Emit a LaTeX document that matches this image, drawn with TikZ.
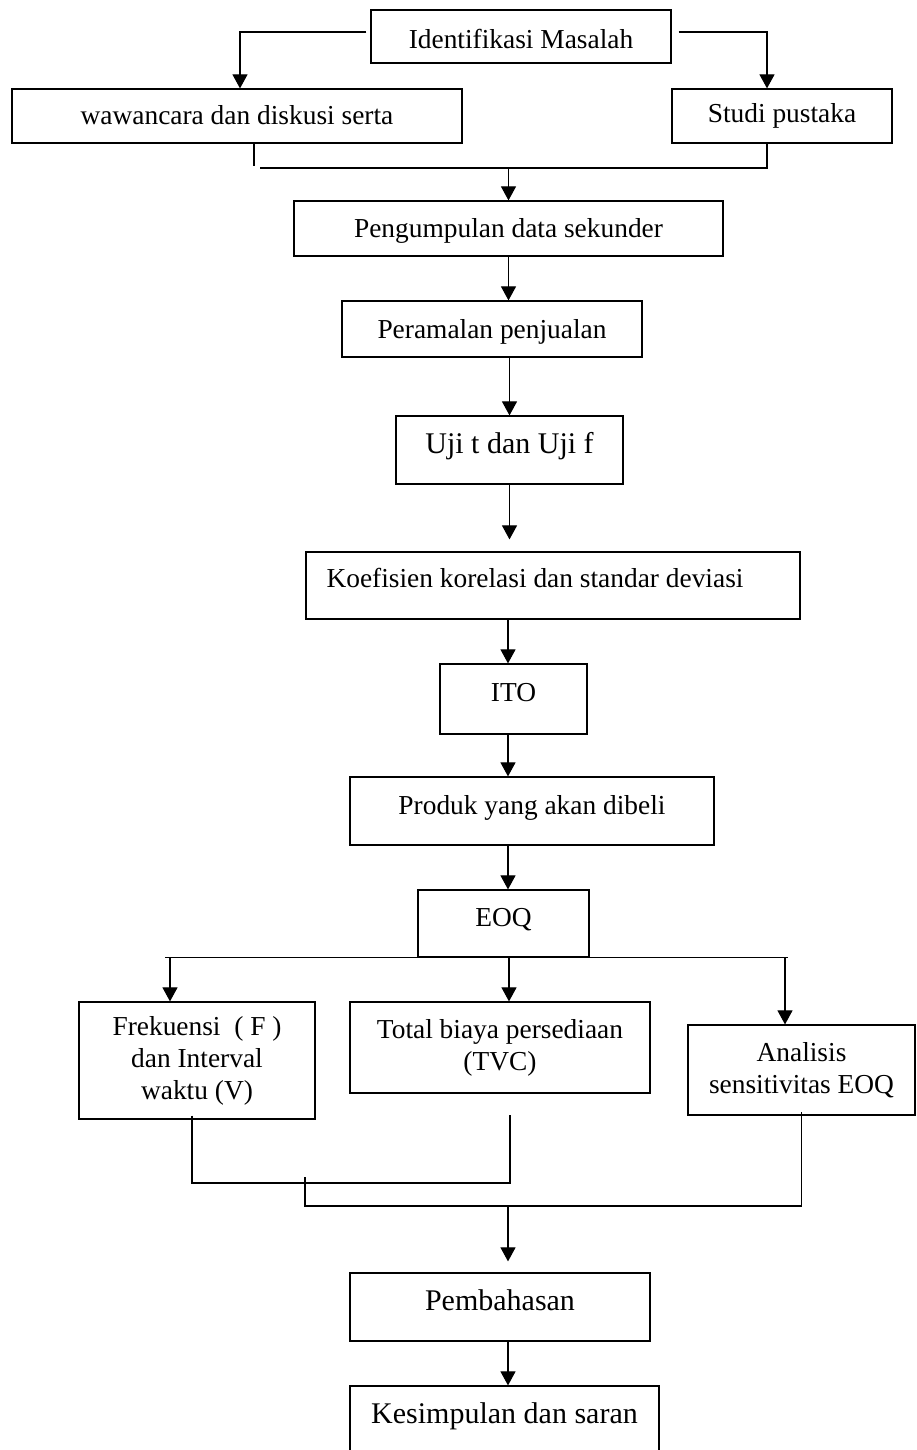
\documentclass[tikz,border=0pt]{standalone}
\usepackage{fontspec}
\setmainfont{Liberation Serif}
\usetikzlibrary{arrows.meta,calc}
\newcommand{\dgnormal}{\fontsize{13.7pt}{15.5pt}\selectfont}
\newcommand{\dgmulti}{\fontsize{13.7pt}{16pt}\selectfont}
\newcommand{\dglarge}{\fontsize{15pt}{17pt}\selectfont}
\begin{document}
\begin{tikzpicture}[x=0.5pt,y=-0.5pt,
  box/.style 2 args={draw,line width=0.6pt,inner sep=0pt,font=\dgnormal,
    minimum width=#1*0.5pt,minimum height=#2*0.5pt,text height=9pt,text depth=0pt},
  bigtext/.style={font=\dglarge,text height=9.9pt},
  multi/.style={align=center,font=\dgmulti,text height=,text depth=},
  ln/.style={line width=0.55pt},
  arr/.style={ln,-{Triangle[length=7pt,width=7.5pt]}}]
\useasboundingbox (0,0) rectangle (916,1450);
\clip (0,0) rectangle (916,1450);
% boxes
\node[box={300}{53},text height=12pt] (ident) at (521,36.5) {Identifikasi Masalah};
\node[box={450}{54}] (waw) at (237,116) {wawancara dan diskusi serta};
\node[box={220}{54},text depth=2pt] (studi) at (782,116) {Studi pustaka};
\node[box={429}{55}] (peng) at (508.5,228.5) {Pengumpulan data sekunder};
\node[box={300}{56}] (peram) at (492,329) {Peramalan penjualan};
\node[box={227}{68},bigtext,text depth=6pt] (uji) at (509.5,450) {Uji t dan Uji f};
\node[box={494}{67},text depth=7.5pt] (koef) at (553,585.5) {Koefisien korelasi dan standar deviasi\hspace*{18pt}};
\node[box={147}{70},text depth=7pt] (ito) at (513.5,699) {ITO};
\node[box={364}{68},text depth=6pt] (produk) at (532,811) {Produk yang akan dibeli};
\node[box={171}{67},text depth=6pt] (eoq) at (503.5,923.5) {EOQ};
\node[box={236}{117},multi] (frek) at (197,1060.5) {Frekuensi\ \ ( F )\\dan Interval\\waktu (V)};
\node[box={300}{91},multi] (total) at (500,1047.5) {Total biaya persediaan\\(TVC)};
\node[box={227}{90},multi] (anal) at (801.5,1070) {Analisis\\sensitivitas EOQ};
\node[box={300}{68},bigtext,text depth=6pt] (pemb) at (500,1307) {Pembahasan};
\node[box={309}{68},bigtext,text depth=6pt] (kes) at (504.5,1420) {Kesimpulan dan saran};
% top connectors
\draw[arr,shorten <=2pt] ([yshift=2.25pt]ident.west) -| ($(waw.north)+(3,0)$);
\draw[arr,shorten <=3.5pt] ([yshift=2.25pt]ident.east) -| ($(studi.north)+(-15,0)$);
\draw[ln] ($(waw.south)+(17,0)$) -- ++(0,22);
\coordinate (j1) at (260,168);
\draw[ln] (j1) -| ($(studi.south)+(-15,0)$);
\draw[arr] (j1 -| peng.north) -- (peng.north);
\draw[arr] (peng.south) -- (peng.south |- peram.north);
\draw[arr] (uji.north |- peram.south) -- (uji.north);
\draw[arr,shorten >=6pt] (uji.south) -- (uji.south |- koef.north);
\coordinate (col) at (508,0);
\draw[arr] (col |- koef.south) -- (col |- ito.north);
\draw[arr] (col |- ito.south) -- (col |- produk.north);
\draw[arr] (col |- produk.south) -- (col |- eoq.north);
% EOQ branches
\coordinate (bl) at (165,0);
\coordinate (br) at (788,0);
\draw[ln] (eoq.south -| bl) -- (eoq.south -| br);
\coordinate (fa) at ($(frek.north)+(-27,0)$);
\coordinate (ta) at ($(total.north)+(9,0)$);
\coordinate (aa) at ($(anal.north)+(-16.5,0)$);
\draw[arr] (fa |- eoq.south) -- (fa);
\draw[arr] (ta |- eoq.south) -- (ta);
\draw[arr] (aa |- eoq.south) -- (aa);
% merging
\coordinate (fb) at ($(frek.south)+(-5,-4)$);
\coordinate (m1) at (510,1115);
\coordinate (m1b) at (510,1183);
\draw[ln] (fb) |- (m1b) -- (m1);
\coordinate (m2) at (305,1177);
\coordinate (m2b) at (305,1206);
\draw[ln] (m2) -- (m2b) -- (m2b -| anal.south) -- ([yshift=2pt]anal.south);
\draw[arr,shorten >=5.5pt] (m2b -| col) -- (col |- pemb.north);
\draw[arr] (col |- pemb.south) -- (col |- kes.north);
\end{tikzpicture}
\end{document}
